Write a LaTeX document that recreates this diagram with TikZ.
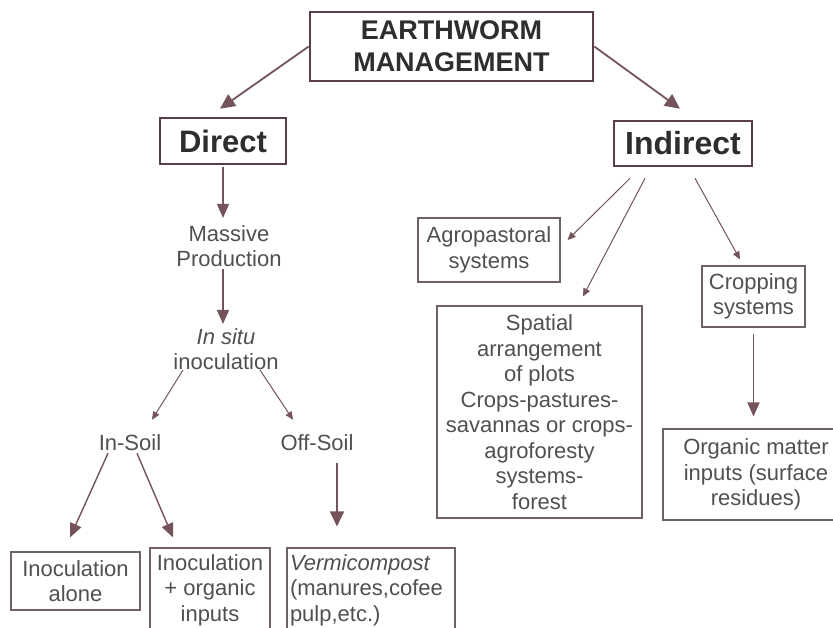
\documentclass[tikz,border=0pt]{standalone}
\usepackage{fontspec}
\setmainfont{Liberation Sans}
\usetikzlibrary{arrows.meta}
\definecolor{framec}{HTML}{5A3E45}
\definecolor{linec}{HTML}{74535A}
\definecolor{textc}{HTML}{505050}
\definecolor{thinc}{HTML}{6E6266}
\tikzset{
  titlebox/.style={draw=framec, line width=2.6pt, text=black!82, align=center, inner sep=0pt},
  label/.style={text=textc, font=\fontsize{22}{25.5}\selectfont, align=center, inner sep=0pt},
  plainbox/.style={label, draw=thinc, line width=1.1pt},
  bigarr/.style={draw=linec, line width=1.8pt, -{Triangle[length=15pt,width=14pt]}},
  midarr/.style={draw=linec, line width=1.4pt, -{Triangle[length=14pt,width=12pt]}},
  thinarr/.style={draw=linec, line width=1pt, -{Triangle[length=8pt,width=7pt]}}
}
\begin{document}
\begin{tikzpicture}[x=1pt,y=-1pt]
  \useasboundingbox[fill=white] (0,0) rectangle (833,628);
  % top levels
  \node[titlebox, font=\bfseries\fontsize{27}{32}\selectfont, minimum width=283pt, minimum height=69pt]
    (em) at (451.5,46.5) {EARTHWORM\\MANAGEMENT};
  \node[titlebox, font=\bfseries\fontsize{31}{36}\selectfont, minimum width=126pt, minimum height=46pt]
    (direct) at (223,141) {Direct};
  \node[titlebox, font=\bfseries\fontsize{32}{36}\selectfont, minimum width=138pt, minimum height=45pt]
    (indirect) at (683,143.5) {Indirect};
  % direct branch
  \node[label] (massive) at (229,246) {Massive\\Production};
  \node[label] (insitu) at (226,349) {\textit{In situ}\\inoculation};
  \node[label] (insoil) at (130,443) {In-Soil};
  \node[label] (offsoil) at (317,443) {Off-Soil};
  \node[plainbox, minimum width=129pt, minimum height=58pt] (alone) at (75.5,581) {Inoculation\\alone};
  \node[plainbox, minimum width=120pt, minimum height=84pt] (orgin) at (210,590) {Inoculation\\+ organic\\inputs};
  \node[plainbox, align=left, text width=162pt, inner xsep=3pt, minimum height=84pt]
    (verm) at (371,590) {\textit{Vermicompost}\\(manures,cofee\\pulp,etc.)};
  % indirect branch
  \node[plainbox, minimum width=142pt, minimum height=64pt] (agro) at (489,250) {Agropastoral\\systems};
  \node[plainbox, minimum width=205pt, minimum height=212pt] (spatial) at (539.5,412)
    {Spatial\\arrangement\\of plots\\Crops-pastures-\\savannas or crops-\\agroforesty\\systems-\\forest};
  \node[plainbox, minimum width=103pt, minimum height=61pt] (crop) at (753.5,296.5) {Cropping\\systems};
  \node[plainbox, minimum width=186pt, minimum height=91pt] (organic) at (756,474.5)
    {Organic matter\\inputs (surface\\residues)};

  \draw[bigarr] (em.west) -- ([xshift=-3pt,yshift=8pt]direct.north);
  \draw[bigarr] (em.east) -- ([xshift=-3pt,yshift=11pt]indirect.north);
  \draw[midarr, shorten <=2pt, shorten >=7pt] (direct.south) -- (direct.south |- massive.north);
  \draw[midarr, shorten <=2pt, shorten >=4pt] (massive.south -| direct.south) -- (direct.south |- insitu.north);
  \draw[thinarr] ([xshift=-43pt]insitu.south) -- ([xshift=22pt,yshift=15pt]insoil.north);
  \draw[thinarr] ([xshift=34pt]insitu.south) -- ([xshift=-24pt,yshift=15pt]offsoil.north);
  \draw[midarr] ([xshift=-22pt,yshift=-2pt]insoil.south) -- ([xshift=-5.5pt,yshift=14pt]alone.north);
  \draw[midarr] ([xshift=7pt,yshift=-2pt]insoil.south) -- ([xshift=-37pt,yshift=10pt]orgin.north);
  \draw[bigarr, shorten <=12pt, shorten >=21pt] ([xshift=20pt]offsoil.south) -- ([xshift=20pt]offsoil.south |- verm.north);
  \draw[thinarr] ([xshift=-53pt,yshift=-11pt]indirect.south) -- ([xshift=7pt,yshift=10pt]agro.east);
  \draw[thinarr] ([xshift=-38pt,yshift=-11pt]indirect.south) -- ([xshift=43.5pt,yshift=9pt]spatial.north);
  \draw[thinarr] ([xshift=12pt,yshift=-11pt]indirect.south) -- ([xshift=-13.5pt,yshift=6pt]crop.north);
  \draw[midarr, shorten <=6pt, shorten >=12pt] (crop.south) -- (crop.south |- organic.north);
\end{tikzpicture}
\end{document}
